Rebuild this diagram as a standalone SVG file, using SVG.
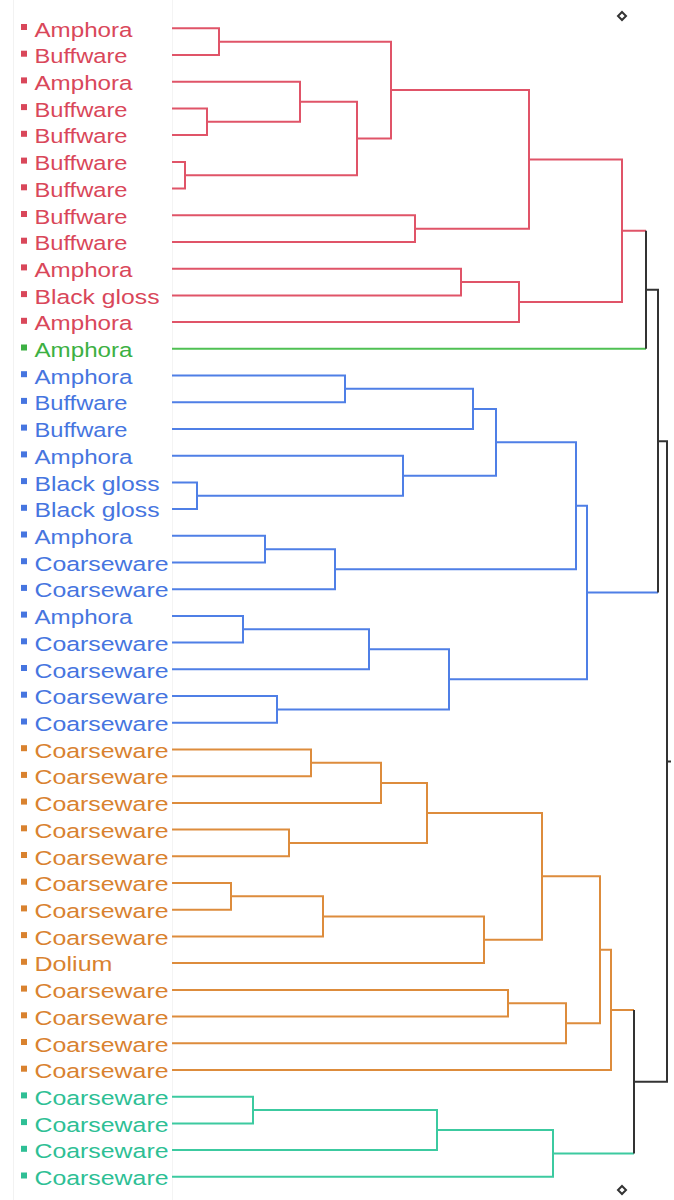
<svg xmlns="http://www.w3.org/2000/svg" width="674" height="1200" viewBox="0 0 674 1200">
<style>
text{font-family:"Liberation Sans",Arial,sans-serif;font-size:20.5px}
.l{fill:none;stroke-width:2}
.r{stroke:#e05468}.rt{fill:#d9475a}
.g{stroke:#4fc053}.gt{fill:#3cb043}
.b{stroke:#4f7fe6}.bt{fill:#4675e0}
.o{stroke:#dd8c3c}.ot{fill:#d9822f}
.t{stroke:#3ccaa0}.tt{fill:#2ebf95}
.k{stroke:#333;fill:none;stroke-width:2}
</style>
<rect width="674" height="1200" fill="#fff"/>
<g id="panel"><line x1="13.5" y1="0" x2="13.5" y2="1200" stroke="#f2f2f2"/><line x1="172.5" y1="0" x2="172.5" y2="1200" stroke="#f4f4f4"/></g>
<g id="leaves" lengthAdjust="spacingAndGlyphs">
<g id="n0" class="rt"><rect x="21" y="24" width="6" height="6"/><text x="34.5" y="36.5" textLength="98" lengthAdjust="spacingAndGlyphs">Amphora</text></g>
<g id="n1" class="rt"><rect x="21" y="50.7" width="6" height="6"/><text x="34.5" y="63.2" textLength="93" lengthAdjust="spacingAndGlyphs">Buffware</text></g>
<g id="n2" class="rt"><rect x="21" y="77.4" width="6" height="6"/><text x="34.5" y="89.9" textLength="98" lengthAdjust="spacingAndGlyphs">Amphora</text></g>
<g id="n3" class="rt"><rect x="21" y="104.1" width="6" height="6"/><text x="34.5" y="116.6" textLength="93" lengthAdjust="spacingAndGlyphs">Buffware</text></g>
<g id="n4" class="rt"><rect x="21" y="130.8" width="6" height="6"/><text x="34.5" y="143.3" textLength="93" lengthAdjust="spacingAndGlyphs">Buffware</text></g>
<g id="n5" class="rt"><rect x="21" y="157.6" width="6" height="6"/><text x="34.5" y="170.1" textLength="93" lengthAdjust="spacingAndGlyphs">Buffware</text></g>
<g id="n6" class="rt"><rect x="21" y="184.3" width="6" height="6"/><text x="34.5" y="196.8" textLength="93" lengthAdjust="spacingAndGlyphs">Buffware</text></g>
<g id="n7" class="rt"><rect x="21" y="211" width="6" height="6"/><text x="34.5" y="223.5" textLength="93" lengthAdjust="spacingAndGlyphs">Buffware</text></g>
<g id="n8" class="rt"><rect x="21" y="237.7" width="6" height="6"/><text x="34.5" y="250.2" textLength="93" lengthAdjust="spacingAndGlyphs">Buffware</text></g>
<g id="n9" class="rt"><rect x="21" y="264.4" width="6" height="6"/><text x="34.5" y="276.9" textLength="98" lengthAdjust="spacingAndGlyphs">Amphora</text></g>
<g id="n10" class="rt"><rect x="21" y="291.1" width="6" height="6"/><text x="34.5" y="303.6" textLength="125" lengthAdjust="spacingAndGlyphs">Black gloss</text></g>
<g id="n11" class="rt"><rect x="21" y="317.8" width="6" height="6"/><text x="34.5" y="330.3" textLength="98" lengthAdjust="spacingAndGlyphs">Amphora</text></g>
<g id="n12" class="gt"><rect x="21" y="344.5" width="6" height="6"/><text x="34.5" y="357" textLength="98" lengthAdjust="spacingAndGlyphs">Amphora</text></g>
<g id="n13" class="bt"><rect x="21" y="371.2" width="6" height="6"/><text x="34.5" y="383.7" textLength="98" lengthAdjust="spacingAndGlyphs">Amphora</text></g>
<g id="n14" class="bt"><rect x="21" y="397.9" width="6" height="6"/><text x="34.5" y="410.4" textLength="93" lengthAdjust="spacingAndGlyphs">Buffware</text></g>
<g id="n15" class="bt"><rect x="21" y="424.6" width="6" height="6"/><text x="34.5" y="437.1" textLength="93" lengthAdjust="spacingAndGlyphs">Buffware</text></g>
<g id="n16" class="bt"><rect x="21" y="451.4" width="6" height="6"/><text x="34.5" y="463.9" textLength="98" lengthAdjust="spacingAndGlyphs">Amphora</text></g>
<g id="n17" class="bt"><rect x="21" y="478.1" width="6" height="6"/><text x="34.5" y="490.6" textLength="125" lengthAdjust="spacingAndGlyphs">Black gloss</text></g>
<g id="n18" class="bt"><rect x="21" y="504.8" width="6" height="6"/><text x="34.5" y="517.3" textLength="125" lengthAdjust="spacingAndGlyphs">Black gloss</text></g>
<g id="n19" class="bt"><rect x="21" y="531.5" width="6" height="6"/><text x="34.5" y="544" textLength="98" lengthAdjust="spacingAndGlyphs">Amphora</text></g>
<g id="n20" class="bt"><rect x="21" y="558.2" width="6" height="6"/><text x="34.5" y="570.7" textLength="134" lengthAdjust="spacingAndGlyphs">Coarseware</text></g>
<g id="n21" class="bt"><rect x="21" y="584.9" width="6" height="6"/><text x="34.5" y="597.4" textLength="134" lengthAdjust="spacingAndGlyphs">Coarseware</text></g>
<g id="n22" class="bt"><rect x="21" y="611.6" width="6" height="6"/><text x="34.5" y="624.1" textLength="98" lengthAdjust="spacingAndGlyphs">Amphora</text></g>
<g id="n23" class="bt"><rect x="21" y="638.3" width="6" height="6"/><text x="34.5" y="650.8" textLength="134" lengthAdjust="spacingAndGlyphs">Coarseware</text></g>
<g id="n24" class="bt"><rect x="21" y="665" width="6" height="6"/><text x="34.5" y="677.5" textLength="134" lengthAdjust="spacingAndGlyphs">Coarseware</text></g>
<g id="n25" class="bt"><rect x="21" y="691.7" width="6" height="6"/><text x="34.5" y="704.2" textLength="134" lengthAdjust="spacingAndGlyphs">Coarseware</text></g>
<g id="n26" class="bt"><rect x="21" y="718.5" width="6" height="6"/><text x="34.5" y="731" textLength="134" lengthAdjust="spacingAndGlyphs">Coarseware</text></g>
<g id="n27" class="ot"><rect x="21" y="745.2" width="6" height="6"/><text x="34.5" y="757.7" textLength="134" lengthAdjust="spacingAndGlyphs">Coarseware</text></g>
<g id="n28" class="ot"><rect x="21" y="771.9" width="6" height="6"/><text x="34.5" y="784.4" textLength="134" lengthAdjust="spacingAndGlyphs">Coarseware</text></g>
<g id="n29" class="ot"><rect x="21" y="798.6" width="6" height="6"/><text x="34.5" y="811.1" textLength="134" lengthAdjust="spacingAndGlyphs">Coarseware</text></g>
<g id="n30" class="ot"><rect x="21" y="825.3" width="6" height="6"/><text x="34.5" y="837.8" textLength="134" lengthAdjust="spacingAndGlyphs">Coarseware</text></g>
<g id="n31" class="ot"><rect x="21" y="852" width="6" height="6"/><text x="34.5" y="864.5" textLength="134" lengthAdjust="spacingAndGlyphs">Coarseware</text></g>
<g id="n32" class="ot"><rect x="21" y="878.7" width="6" height="6"/><text x="34.5" y="891.2" textLength="134" lengthAdjust="spacingAndGlyphs">Coarseware</text></g>
<g id="n33" class="ot"><rect x="21" y="905.4" width="6" height="6"/><text x="34.5" y="917.9" textLength="134" lengthAdjust="spacingAndGlyphs">Coarseware</text></g>
<g id="n34" class="ot"><rect x="21" y="932.1" width="6" height="6"/><text x="34.5" y="944.6" textLength="134" lengthAdjust="spacingAndGlyphs">Coarseware</text></g>
<g id="n35" class="ot"><rect x="21" y="958.8" width="6" height="6"/><text x="34.5" y="971.3" textLength="78" lengthAdjust="spacingAndGlyphs">Dolium</text></g>
<g id="n36" class="ot"><rect x="21" y="985.6" width="6" height="6"/><text x="34.5" y="998.1" textLength="134" lengthAdjust="spacingAndGlyphs">Coarseware</text></g>
<g id="n37" class="ot"><rect x="21" y="1012.3" width="6" height="6"/><text x="34.5" y="1024.8" textLength="134" lengthAdjust="spacingAndGlyphs">Coarseware</text></g>
<g id="n38" class="ot"><rect x="21" y="1039" width="6" height="6"/><text x="34.5" y="1051.5" textLength="134" lengthAdjust="spacingAndGlyphs">Coarseware</text></g>
<g id="n39" class="ot"><rect x="21" y="1065.7" width="6" height="6"/><text x="34.5" y="1078.2" textLength="134" lengthAdjust="spacingAndGlyphs">Coarseware</text></g>
<g id="n40" class="tt"><rect x="21" y="1092.4" width="6" height="6"/><text x="34.5" y="1104.9" textLength="134" lengthAdjust="spacingAndGlyphs">Coarseware</text></g>
<g id="n41" class="tt"><rect x="21" y="1119.1" width="6" height="6"/><text x="34.5" y="1131.6" textLength="134" lengthAdjust="spacingAndGlyphs">Coarseware</text></g>
<g id="n42" class="tt"><rect x="21" y="1145.8" width="6" height="6"/><text x="34.5" y="1158.3" textLength="134" lengthAdjust="spacingAndGlyphs">Coarseware</text></g>
<g id="n43" class="tt"><rect x="21" y="1172.5" width="6" height="6"/><text x="34.5" y="1185" textLength="134" lengthAdjust="spacingAndGlyphs">Coarseware</text></g>
</g>
<g id="connectors">
<path class="l r" d="M172,28.3H219V55H172 M172,108.4H207V135.1H172 M172,81.7H300V121.75H207 M172,161.9H185V188.6H172 M300,101.7H357V175.25H185 M219,41.65H391V138.5H357 M172,215.3H415V242H172 M391,90.1H529V228.65H415 M172,268.7H461V295.4H172 M461,282.05H519V322.1H172 M529,159.4H622V302.1H519 M622,230.75H646"/>
<path class="l g" d="M172,348.8H646"/>
<path class="l b" d="M172,375.5H345V402.2H172 M345,388.85H473V428.9H172 M172,482.4H197V509.1H172 M172,455.7H403V495.75H197 M473,408.9H496V475.7H403 M172,535.8H265V562.5H172 M265,549.15H335V589.2H172 M496,442.3H576V569.2H335 M172,615.9H243V642.6H172 M243,629.25H369V669.3H172 M172,696H277V722.8H172 M369,649.3H449V709.4H277 M576,505.75H587V679.35H449 M587,592.55H658"/>
<path class="l o" d="M172,749.5H311V776.2H172 M311,762.85H381V802.9H172 M172,829.6H289V856.3H172 M381,782.9H427V842.95H289 M172,883H231V909.7H172 M231,896.35H323V936.4H172 M323,916.4H484V963.1H172 M427,812.9H542V939.75H484 M172,989.9H508V1016.6H172 M508,1003.25H566V1043.3H172 M542,876.3H600V1023.3H566 M600,949.8H611V1070H172 M611,1009.9H634"/>
<path class="l t" d="M172,1096.7H253V1123.4H172 M253,1110.05H437V1150.1H172 M437,1130.1H553V1176.8H172 M553,1153.45H634"/>
<path class="k" d="M646,230.75V348.8 M646,289.8H658V592.55 M658,441.2H667V1081.7H634 M634,1009.9V1153.45 M667,761.45H671"/>
</g>
<g id="handles" fill="#fff" stroke="#333" stroke-width="2">
<path d="M622,12L626,16L622,20L618,16Z"/>
<path d="M622,1186L626,1190L622,1194L618,1190Z"/>
</g>
</svg>
